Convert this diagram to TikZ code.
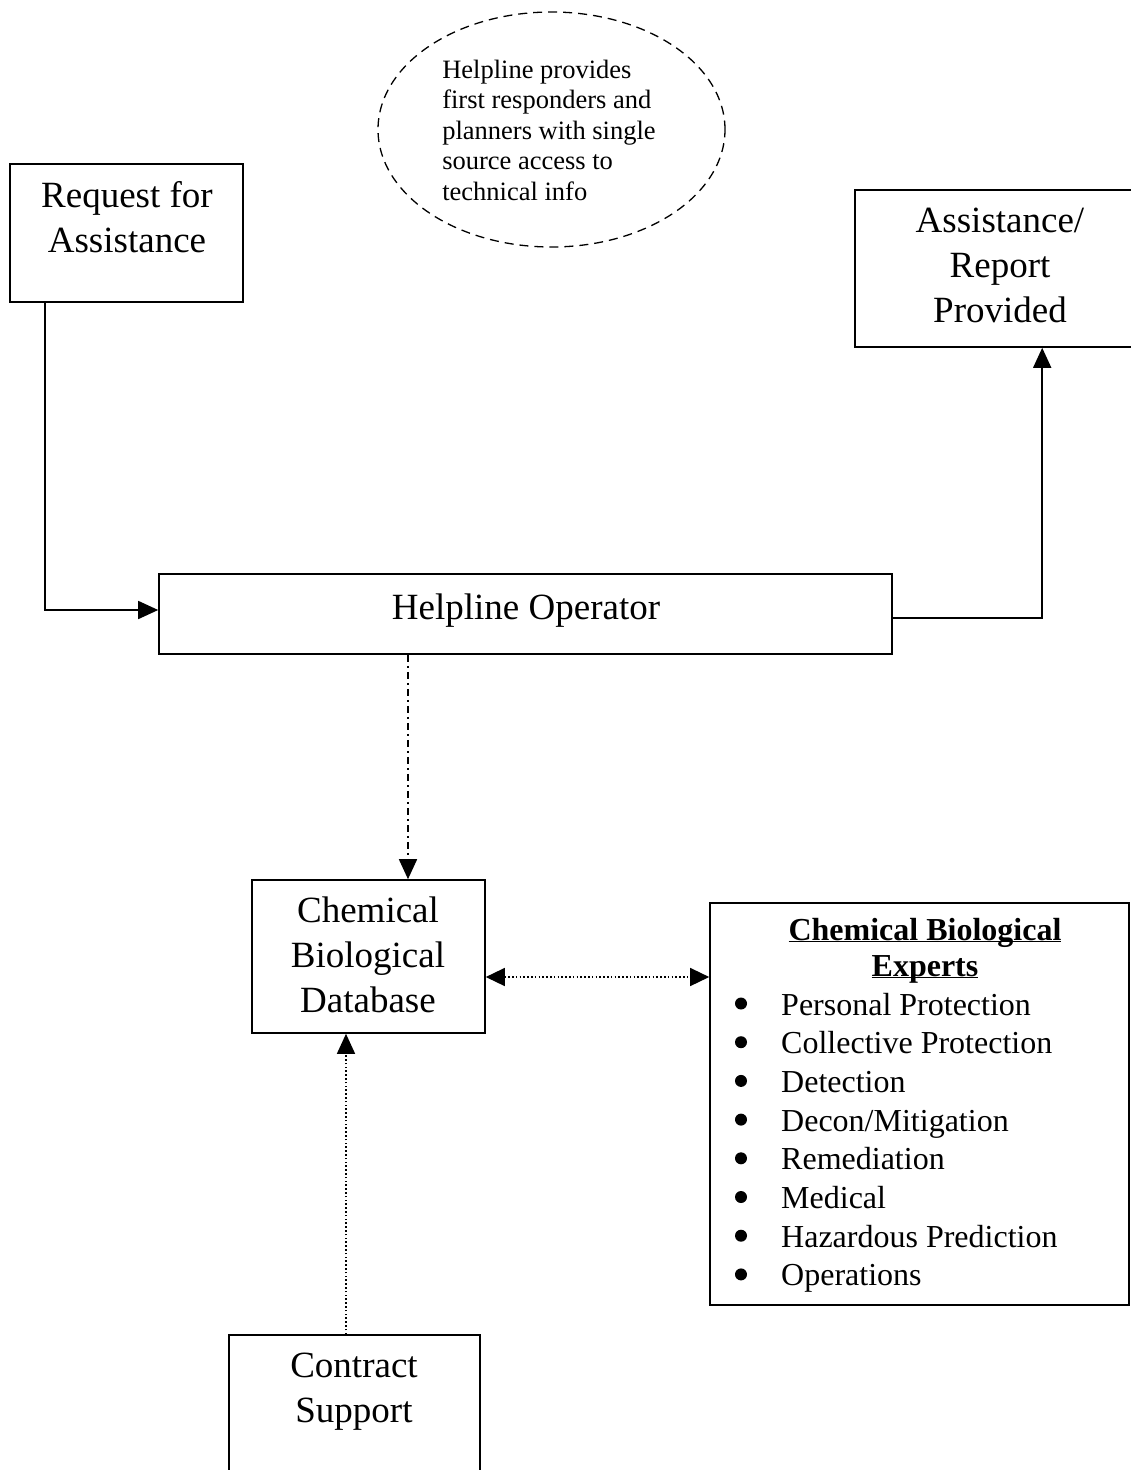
\documentclass[tikz,border=0pt]{standalone}
\usepackage{fontspec}
\setmainfont{Liberation Serif}
\usetikzlibrary{arrows.meta,shapes.geometric}
\begin{document}
\begin{tikzpicture}[x=1pt,y=-1pt,
  box/.style={draw,line width=1.6pt,rectangle,inner sep=0pt},
  big/.style={font=\fontsize{37}{45}\selectfont,align=center,inner sep=0pt},
  mid/.style={font=\fontsize{32}{38.7}\selectfont,inner sep=0pt},
  small/.style={font=\fontsize{26.5}{30.5}\selectfont,align=left,inner sep=0pt},
  arr/.style={line width=1.6pt,-{Triangle[length=20pt,width=18pt]}},
  dashdot/.style={line width=1.6pt,dash pattern=on 7pt off 4pt on 2pt off 4pt},
  dots/.style={line width=1.4pt,dash pattern=on 1.6pt off 2.2pt}]
\clip (0,0) rectangle (1131,1470);
% ellipse note
\node[draw,ellipse,line width=1.3pt,dash pattern=on 9pt off 6pt,minimum width=347pt,minimum height=235pt,inner sep=0pt] (note) at (551.5,129.5) {};
\node[small] (notetext) at (549,130) {Helpline provides\\first responders and\\planners with single\\source access to\\technical info};
% boxes
\node[box,minimum width=233pt,minimum height=138pt] (req) at (126.5,233) {};
\node[big] (reqtext) at (127,217) {Request for\\Assistance};
\node[box,minimum width=290pt,minimum height=157pt] (asst) at (1000,268.5) {};
\node[big] (assttext) at (1000,265) {Assistance/\\Report\\Provided};
\node[box,minimum width=733pt,minimum height=80pt] (op) at (525.5,614) {};
\node[big] (optext) at (526,611) {Helpline Operator};
\node[box,minimum width=233pt,minimum height=153pt] (db) at (368.5,956.5) {};
\node[big] (dbtext) at (368,955) {Chemical\\Biological\\Database};
\node[box,minimum width=419pt,minimum height=402pt] (exp) at (919.5,1104) {};
\node[mid,align=center,font=\fontsize{32}{36}\selectfont\bfseries] (exptitle) at (925,959) {\underline{\smash{Chemical Biological}}\\\underline{\smash{Experts}}};
\node[mid,anchor=base west] (explist) at (781,1015) {%
  \begin{tabular}[t]{@{}l@{}}
  Personal Protection\\
  Collective Protection\\
  Detection\\
  Decon/Mitigation\\
  Remediation\\
  Medical\\
  Hazardous Prediction\\
  Operations
  \end{tabular}};
\foreach \i in {0,...,7} \fill (741,1003.5+38.7*\i) circle (6pt);
\node[box,minimum width=251pt,minimum height=150pt] (cs) at (354.5,1410) {};
\node[big] (cstext) at (354,1392) {Contract\\Support};
% connectors
\coordinate (reqout) at ([xshift=36pt]req.south west);
\coordinate (opin) at ([yshift=4pt]op.west);
\draw[arr] (reqout) |- (opin);
\coordinate (asstin) at ([xshift=188pt]asst.south west);
\coordinate (opout) at ([yshift=-4pt]op.east);
\draw[arr] (opout) -| (asstin);
\coordinate (dbtop) at ([xshift=39.5pt]db.north);
\draw[dashdot] (dbtop |- op.south) -- ([yshift=18pt]dbtop);
\draw[arr] ([yshift=20pt]dbtop) -- (dbtop);
\coordinate (dbr) at ([yshift=-20.5pt]db.east);
\draw[dots,{Triangle[length=19pt,width=18pt]}-{Triangle[length=19pt,width=18pt]}] (dbr) -- (dbr -| exp.west);
\coordinate (csx) at ([xshift=-8.5pt]cs.north);
\draw[dots,-{Triangle[length=20pt,width=18pt]}] (csx) -- (csx |- db.south);
\end{tikzpicture}
\end{document}
